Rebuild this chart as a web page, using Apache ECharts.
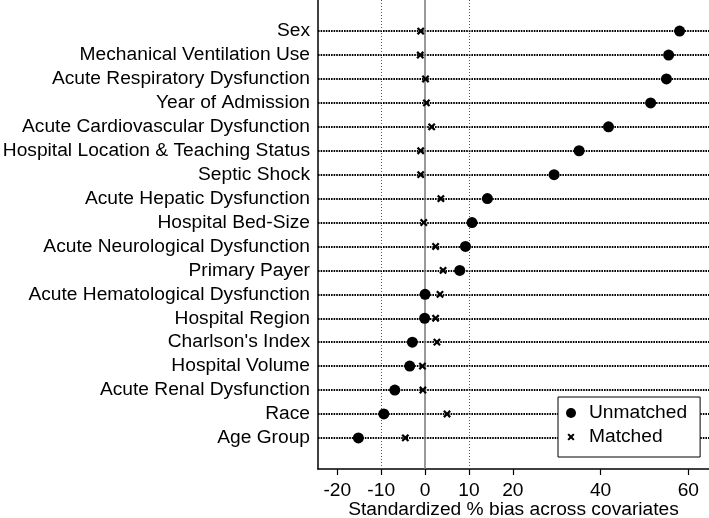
<!DOCTYPE html>
<html>
<head>
<meta charset="utf-8">
<script src="https://cdn.jsdelivr.net/npm/echarts@6/dist/echarts.min.js"></script>
<style>
  html, body { margin: 0; padding: 0; background: #fff; }
  #chart { width: 709px; height: 518px; }
</style>
</head>
<body>
<div id="chart"></div>
<script>
// covariates, top to bottom
const covariates = [
  'Sex', 'Mechanical Ventilation Use', 'Acute Respiratory Dysfunction', 'Year of Admission',
  'Acute Cardiovascular Dysfunction', 'Hospital Location & Teaching Status', 'Septic Shock',
  'Acute Hepatic Dysfunction', 'Hospital Bed-Size', 'Acute Neurological Dysfunction',
  'Primary Payer', 'Acute Hematological Dysfunction', 'Hospital Region', "Charlson's Index",
  'Hospital Volume', 'Acute Renal Dysfunction', 'Race', 'Age Group'
];
const unmatched = [58.0, 55.5, 55.0, 51.4, 41.8, 35.1, 29.4, 14.2, 10.7, 9.2, 7.9, 0.0, -0.1, -2.9, -3.5, -6.9, -9.4, -15.2];
const matched = [-1.0, -1.1, 0.1, 0.3, 1.5, -1.0, -1.0, 3.6, -0.3, 2.4, 4.1, 3.4, 2.4, 2.7, -0.6, -0.5, 5.0, -4.5];
const xTicks = [-20, -10, 0, 10, 20, 40, 60];
const refLines = [-10, 10];

const n = covariates.length;
const rowPos = covariates.map((c, i) => n - i);
const labelOf = {};
covariates.forEach((c, i) => { labelOf[n - i] = c; });

// x marker, with empty corners so it draws smaller than its box
const crossPath = 'path://M-2,-2L-2,-2ZM12,12L12,12ZM0,2L2,0L5,3L8,0L10,2L7,5L10,8L8,10L5,7L2,10L0,8L3,5Z';
const font = 'Liberation Sans, Arial, Helvetica, sans-serif';
const fs = 19.2;

const chart = echarts.init(document.getElementById('chart'));
chart.setOption({
  animation: false,
  textStyle: { fontFamily: font },
  grid: { left: 318, right: 0, top: 0, bottom: 49, outerBoundsMode: 'none', containLabel: false },
  legend: {
    left: 558, top: 397,
    z: 20,
    orient: 'vertical',
    padding: [6, 13, 10, 8],
    itemGap: 4,
    itemWidth: 26, itemHeight: 10,
    backgroundColor: '#fff',
    borderColor: '#000', borderWidth: 1, borderRadius: 0,
    textStyle: { fontSize: fs, color: '#000', fontFamily: font, lineHeight: 20 },
    data: ['Unmatched', 'Matched']
  },
  xAxis: {
    type: 'value',
    min: -24.4, max: 64.7,
    name: 'Standardized % bias across covariates',
    nameLocation: 'middle',
    nameGap: 31,
    nameMoveOverlap: false,
    nameTextStyle: { fontSize: fs, color: '#000', fontFamily: font },
    axisLine: { show: true, onZero: false, lineStyle: { color: '#000', width: 1.5 } },
    axisTick: { show: true, length: 6, customValues: xTicks, lineStyle: { color: '#000', width: 1.2 } },
    axisLabel: { customValues: xTicks, fontSize: fs, color: '#000', margin: 12, fontFamily: font },
    splitLine: { show: false }
  },
  yAxis: {
    type: 'value',
    min: -0.3, max: n + 1.3,
    axisLine: { show: true, onZero: false, lineStyle: { color: '#000', width: 1.5 } },
    axisTick: { show: false },
    axisLabel: {
      customValues: rowPos,
      formatter: v => labelOf[v] || '',
      fontSize: fs, color: '#000', margin: 8, fontFamily: font
    },
    splitLine: { show: false }
  },
  series: [
    {
      type: 'scatter',
      name: 'guides',
      data: [],
      silent: true,
      z: 1,
      markLine: {
        silent: true,
        z: 1,
        symbol: ['none', 'none'],
        label: { show: false },
        animation: false,
        data: [
          ...rowPos.map(y => ({ yAxis: y, lineStyle: { color: '#000', width: 2.2, type: [1.6, 1] } })),
          ...refLines.map(x => ({ xAxis: x, lineStyle: { color: '#555', width: 1, type: [1, 2] } })),
          { xAxis: 0, lineStyle: { color: '#777', width: 1.5, type: 'solid' } }
        ]
      }
    },
    {
      type: 'scatter',
      name: 'Unmatched',
      symbol: 'circle',
      symbolSize: 11,
      z: 3,
      itemStyle: { color: '#000', opacity: 1 },
      data: unmatched.map((v, i) => [v, rowPos[i]])
    },
    {
      type: 'scatter',
      name: 'Matched',
      symbol: crossPath,
      symbolSize: 11,
      z: 4,
      itemStyle: { color: '#000', opacity: 1 },
      data: matched.map((v, i) => [v, rowPos[i]])
    }
  ]
});
</script>
</body>
</html>
